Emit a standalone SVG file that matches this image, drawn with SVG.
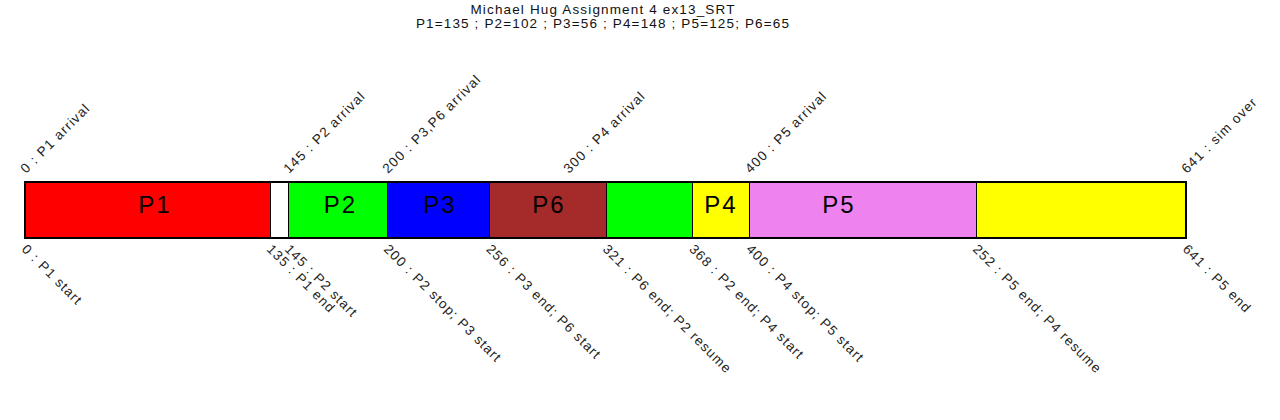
<svg xmlns="http://www.w3.org/2000/svg" width="1280" height="420" viewBox="0 0 1280 420">
<style>
.t{font-family:"Liberation Sans",Arial,sans-serif;font-size:13.5px;letter-spacing:1.15px;fill:#222}
.title{font-family:"Liberation Sans",Arial,sans-serif;font-size:13.5px;letter-spacing:1.15px;fill:#111;text-anchor:middle}
.pl{font-family:"Liberation Sans",Arial,sans-serif;font-size:24px;letter-spacing:2px;fill:#000;text-anchor:middle}
.div{stroke:#000;stroke-width:1}
</style>
<rect width="1280" height="420" fill="#fff"/>
<g id="title">
<text class="title" x="603" y="13.5">Michael Hug Assignment 4 ex13_SRT</text>
<text class="title" x="603" y="28">P1=135 ; P2=102 ; P3=56 ; P4=148 ; P5=125; P6=65</text>
</g>
<g id="bar">
<g id="seg-P1"><rect x="25" y="182" width="245" height="56" fill="#ff0000"/><text class="pl" x="155" y="213">P1</text></g>
<g id="seg-idle"><rect x="270" y="182" width="18" height="56" fill="#ffffff"/></g>
<g id="seg-P2"><rect x="288" y="182" width="99" height="56" fill="#00ff00"/><text class="pl" x="340.5" y="213">P2</text></g>
<g id="seg-P3"><rect x="387" y="182" width="102.5" height="56" fill="#0000ff"/><text class="pl" x="440" y="213">P3</text></g>
<g id="seg-P6"><rect x="489.5" y="182" width="116.5" height="56" fill="#a52a2a"/><text class="pl" x="549" y="213">P6</text></g>
<g id="seg-P2b"><rect x="606" y="182" width="86.5" height="56" fill="#00ff00"/></g>
<g id="seg-P4"><rect x="692.5" y="182" width="57" height="56" fill="#ffff00"/><text class="pl" x="721" y="213">P4</text></g>
<g id="seg-P5"><rect x="749.5" y="182" width="226.5" height="56" fill="#ee82ee"/><text class="pl" x="839" y="213">P5</text></g>
<g id="seg-P4b"><rect x="976" y="182" width="210" height="56" fill="#ffff00"/></g>
<g id="dividers">
<line class="div" x1="270.5" y1="182" x2="270.5" y2="238"/>
<line class="div" x1="288.5" y1="182" x2="288.5" y2="238"/>
<line class="div" x1="387.5" y1="182" x2="387.5" y2="238"/>
<line class="div" x1="489.5" y1="182" x2="489.5" y2="238"/>
<line class="div" x1="606.5" y1="182" x2="606.5" y2="238"/>
<line class="div" x1="692.5" y1="182" x2="692.5" y2="238"/>
<line class="div" x1="749.5" y1="182" x2="749.5" y2="238"/>
<line class="div" x1="976.5" y1="182" x2="976.5" y2="238"/>
</g>
<rect x="25" y="182" width="1161" height="56" fill="none" stroke="#000" stroke-width="2"/>
</g>
<g id="top-labels">
<text class="t" transform="translate(26,174) rotate(-45)">0 : P1 arrival</text>
<text class="t" transform="translate(289,174) rotate(-45)">145 : P2 arrival</text>
<text class="t" transform="translate(388,174) rotate(-45)">200 : P3,P6 arrival</text>
<text class="t" transform="translate(569,174) rotate(-45)">300 : P4 arrival</text>
<text class="t" transform="translate(750.5,174) rotate(-45)">400 : P5 arrival</text>
<text class="t" transform="translate(1187,174) rotate(-45)">641 : sim over</text>
</g>
<g id="bottom-labels">
<text class="t" transform="translate(21,250) rotate(45)">0 : P1 start</text>
<text class="t" transform="translate(266,250) rotate(45)">135 : P1 end</text>
<text class="t" transform="translate(284,250) rotate(45)">145 : P2 start</text>
<text class="t" transform="translate(383,250) rotate(45)">200 : P2 stop; P3 start</text>
<text class="t" transform="translate(485.5,250) rotate(45)">256 : P3 end; P6 start</text>
<text class="t" transform="translate(602,250) rotate(45)">321 : P6 end; P2 resume</text>
<text class="t" transform="translate(688.5,250) rotate(45)">368 : P2 end; P4 start</text>
<text class="t" transform="translate(745.5,250) rotate(45)">400 : P4 stop; P5 start</text>
<text class="t" transform="translate(972,250) rotate(45)">252 : P5 end; P4 resume</text>
<text class="t" transform="translate(1182,250) rotate(45)">641 : P5 end</text>
</g>
</svg>
